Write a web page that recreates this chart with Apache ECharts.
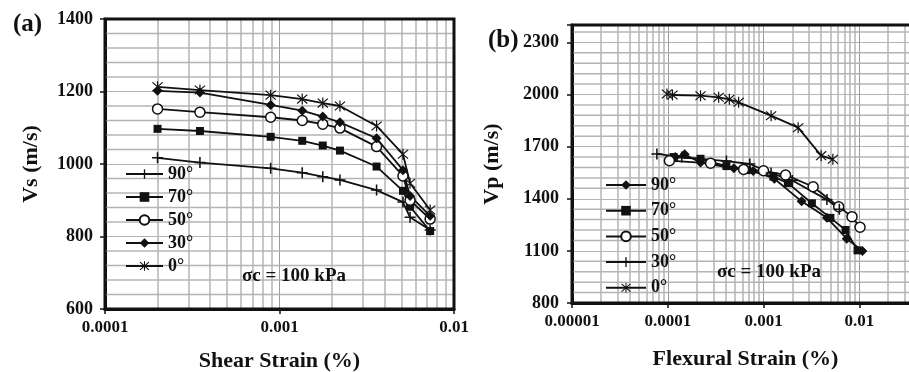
<!DOCTYPE html>
<html>
<head>
<meta charset="utf-8">
<script src="https://cdn.jsdelivr.net/npm/echarts@6/dist/echarts.min.js"></script>
<style>
  html, body { margin: 0; padding: 0; background: #fff; }
  #chart { width: 909px; height: 372px; }
</style>
</head>
<body>
<div id="chart"></div>
<script>
// ---- data ----
// (a) shear strain (%) vs Vs (m/s); every orientation uses the same strains
const strainA = [0.0002, 0.00035, 0.00089, 0.00135, 0.00177, 0.00222, 0.0036, 0.0051, 0.0056, 0.0073];
const vsA90 = [1017, 1004, 988, 976, 965, 956, 928, 895, 853, 818];
const vsA70 = [1097, 1091, 1075, 1064, 1051, 1037, 993, 926, 882, 815];
const vsA50 = [1152, 1143, 1129, 1120, 1110, 1099, 1048, 967, 900, 848];
const vsA30 = [1202, 1197, 1163, 1147, 1131, 1115, 1071, 983, 912, 857];
const vsA0 = [1213, 1204, 1190, 1179, 1168, 1160, 1105, 1027, 947, 873];

// (b) flexural strain (%) vs Vp (m/s)
const strainB90 = [0.00012, 0.00015, 0.00022, 0.00049, 0.00078, 0.0013, 0.0025, 0.0046, 0.0074, 0.0108];
const vpB90 = [1640, 1656, 1608, 1575, 1560, 1515, 1385, 1290, 1170, 1100];
const strainB70 = [0.000115, 0.00022, 0.00041, 0.00067, 0.00127, 0.0018, 0.0032, 0.005, 0.0072, 0.0096];
const vpB70 = [1640, 1630, 1588, 1565, 1527, 1490, 1374, 1290, 1220, 1103];
const strainB50 = [0.000104, 0.00028, 0.00062, 0.001, 0.0017, 0.0033, 0.0061, 0.0084, 0.0102];
const vpB50 = [1619, 1604, 1569, 1561, 1537, 1469, 1354, 1297, 1236];
const strainB30 = [0.000077, 0.00014, 0.00041, 0.00072, 0.0012, 0.002, 0.0046, 0.0062];
const vpB30 = [1658, 1640, 1617, 1600, 1548, 1505, 1395, 1340];
const strainB0 = [0.000098, 0.000112, 0.00022, 0.00034, 0.00044, 0.00055, 0.0012, 0.0023, 0.004, 0.0053];
const vpB0 = [2003, 1997, 1993, 1984, 1972, 1955, 1878, 1809, 1648, 1627];

const legendNames = ['90°', '70°', '50°', '30°', '0°'];
const xTickLabels = ['0.00001', '0.0001', '0.001', '0.01', '0.1']; // exponents -5 .. -1
const yTicksA = [600, 800, 1000, 1200, 1400];
const yTicksB = [800, 1100, 1400, 1700, 2000, 2300];
const decadesA = [0.0001, 0.001];
const decadesB = [0.00001, 0.0001, 0.001, 0.01];
const minorSteps = [2, 3, 4, 5, 6, 7, 8, 9];

// axis ranges, light grid steps on the value axes
const xRangeA = [0.0001, 0.01];
const yRangeA = [600, 1400];
const yStepA = 40;
const xRangeB = [0.00001, 0.1];
const yRangeB = [800, 2400];
const yStepB = 60;

// ---- look ----
const FONT = '"Liberation Serif", "Times New Roman", serif';
const INK = '#111';
const GRID_MINOR = '#b4b4b4';
const GRID_MID = '#b4b4b4';
const GRID_MAJOR = '#999999';

const PLUS = 'path://M4.3,0H5.7V4.3H10V5.7H5.7V10H4.3V5.7H0V4.3H4.3Z';
const STAR = 'path://M4.5,0H5.5V10H4.5Z' +
  'M1.145,0.638L9.545,8.638L8.855,9.362L0.455,1.362Z' +
  'M8.855,0.638L9.545,1.362L1.145,9.362L0.455,8.638Z';

function minorGrid(decades) {
  const out = [];
  decades.forEach((d) => minorSteps.forEach((m) => out.push(+(d * m).toPrecision(3))));
  return out;
}

function minorY(range, step, majors) {
  const out = [];
  for (let v = range[0] + step; v < range[1]; v += step) {
    if (!majors.includes(v)) out.push(v);
  }
  return out;
}

function curve(name, idx, xs, ys, symbol, size, open) {
  return {
    name,
    type: 'line',
    xAxisIndex: idx,
    yAxisIndex: idx,
    data: xs.map((x, i) => [x, ys[i]]),
    symbol,
    symbolSize: size,
    showSymbol: true,
    lineStyle: { color: INK, width: 1.8 },
    itemStyle: open
      ? { color: '#fff', borderColor: INK, borderWidth: 1.5 }
      : { color: INK, borderWidth: 0 },
    emphasis: { disabled: true },
    z: 3,
    animation: false,
  };
}

// log minor grid (2..9 in each decade), drawn as plain segments through the axes
function logGrid(idx, xs, yRange) {
  return {
    type: 'lines',
    coordinateSystem: 'cartesian2d',
    xAxisIndex: idx,
    yAxisIndex: idx,
    data: xs.map((v) => ({ coords: [[v, yRange[0]], [v, yRange[1]]] })),
    silent: true,
    animation: false,
    z: 1,
    lineStyle: { color: GRID_MINOR, width: 1.5, opacity: 1, curveness: 0 },
  };
}

// horizontal minor grid: one flat two-point line per value, ends tucked under the frame
function flatGrid(idx, ys, xRange) {
  const x0 = xRange[0] * 1.01;
  const x1 = xRange[1] / 1.01;
  return ys.map((v) => ({
    type: 'line',
    xAxisIndex: idx,
    yAxisIndex: idx,
    data: [[x0, v], [x1, v]],
    symbol: 'none',
    silent: true,
    animation: false,
    z: 1,
    lineStyle: { color: GRID_MINOR, width: 1.5 },
    emphasis: { disabled: true },
  }));
}

const axisText = { fontFamily: FONT, fontWeight: 'bold', color: INK };

function xAxis(idx, range, name, nameGap, namePad) {
  return {
    type: 'log',
    logBase: 10,
    gridIndex: idx,
    min: range[0],
    max: range[1],
    name,
    nameLocation: 'middle',
    nameGap,
    nameTextStyle: { ...axisText, fontSize: 22, padding: namePad },
    axisLine: { show: true, lineStyle: { color: INK, width: 3 } },
    axisTick: { show: true, length: 5, lineStyle: { color: INK, width: 1.5 } },
    axisLabel: {
      ...axisText,
      fontSize: 17,
      margin: 10,
      formatter: (v) => xTickLabels[Math.round(Math.log10(v)) + 5],
    },
    splitLine: { show: true, lineStyle: { color: GRID_MAJOR, width: 1 } },
  };
}

function yAxis(idx, range, interval, ticks, name, nameGap, margin) {
  return {
    type: 'value',
    gridIndex: idx,
    min: range[0],
    max: range[1],
    interval,
    name,
    nameLocation: 'middle',
    nameGap,
    nameTextStyle: { ...axisText, fontSize: 22 },
    axisLine: { show: true, lineStyle: { color: INK, width: 3 } },
    axisTick: { show: true, length: 5, lineStyle: { color: INK, width: 1.5 } },
    axisLabel: { ...axisText, fontSize: 18, margin,
      formatter: (v) => (ticks.includes(v) ? String(v) : '') },
    splitLine: { show: true, lineStyle: { color: GRID_MID, width: 1 } },
  };
}

const chart = echarts.init(document.getElementById('chart'));

chart.setOption({
  backgroundColor: '#fff',
  animation: false,
  title: [
    { text: '(a)', left: 8, top: 7, textStyle: { ...axisText, fontSize: 25 } },
    { text: '(b)', left: 483, top: 23, textStyle: { ...axisText, fontSize: 25 } },
  ],
  grid: [
    { left: 105, top: 19, width: 349, height: 290, show: true, z: 10,
      outerBoundsMode: 'none', containLabel: false,
      backgroundColor: 'transparent', borderColor: INK, borderWidth: 3 },
    { left: 572, top: 25, width: 383, height: 278, show: true, z: 10,
      outerBoundsMode: 'none', containLabel: false,
      backgroundColor: 'transparent', borderColor: INK, borderWidth: 3 },
  ],
  xAxis: [
    xAxis(0, xRangeA, 'Shear Strain (%)', 41, 0),
    xAxis(1, xRangeB, 'Flexural Strain (%)', 45, [0, 36, 0, 0]),
  ],
  yAxis: [
    yAxis(0, yRangeA, 200, yTicksA, 'Vs (m/s)', 63, 12),
    yAxis(1, yRangeB, 300, yTicksB, 'Vp (m/s)', 69, 13),
  ],
  legend: [
    {
      orient: 'vertical',
      left: 120,
      top: 160,
      itemWidth: 37,
      itemHeight: 12,
      itemGap: 5,
      selectedMode: false,
      data: legendNames.map((n) => 'a ' + n),
      formatter: (n) => n.slice(2),
      textStyle: { ...axisText, fontSize: 18, lineHeight: 18 },
    },
    {
      orient: 'vertical',
      left: 600,
      top: 171,
      itemWidth: 40,
      itemHeight: 12,
      itemGap: 7.7,
      selectedMode: false,
      data: legendNames.map((n) => 'b ' + n),
      formatter: (n) => n.slice(2),
      textStyle: { ...axisText, fontSize: 18, lineHeight: 18 },
    },
  ],
  graphic: [
    { type: 'text', left: 242, top: 267, z: 20,
      style: { text: 'σc = 100 kPa', font: 'bold 19px ' + FONT, fill: INK } },
    { type: 'text', left: 717, top: 263, z: 20,
      style: { text: 'σc = 100 kPa', font: 'bold 19px ' + FONT, fill: INK } },
  ],
  series: [
    logGrid(0, minorGrid(decadesA), yRangeA),
    logGrid(1, minorGrid(decadesB), yRangeB),
    ...flatGrid(0, minorY(yRangeA, yStepA, yTicksA), xRangeA),
    ...flatGrid(1, minorY(yRangeB, yStepB, yTicksB), xRangeB),

    curve('a 90°', 0, strainA, vsA90, PLUS, 11, false),
    curve('a 70°', 0, strainA, vsA70, 'rect', 8, false),
    curve('a 50°', 0, strainA, vsA50, 'circle', 10, true),
    curve('a 30°', 0, strainA, vsA30, 'diamond', 10, false),
    curve('a 0°', 0, strainA, vsA0, STAR, 11, false),

    curve('b 90°', 1, strainB90, vpB90, 'diamond', 10, false),
    curve('b 70°', 1, strainB70, vpB70, 'rect', 8, false),
    curve('b 50°', 1, strainB50, vpB50, 'circle', 10, true),
    curve('b 30°', 1, strainB30, vpB30, PLUS, 11, false),
    curve('b 0°', 1, strainB0, vpB0, STAR, 11, false),
  ],
});
</script>
</body>
</html>
